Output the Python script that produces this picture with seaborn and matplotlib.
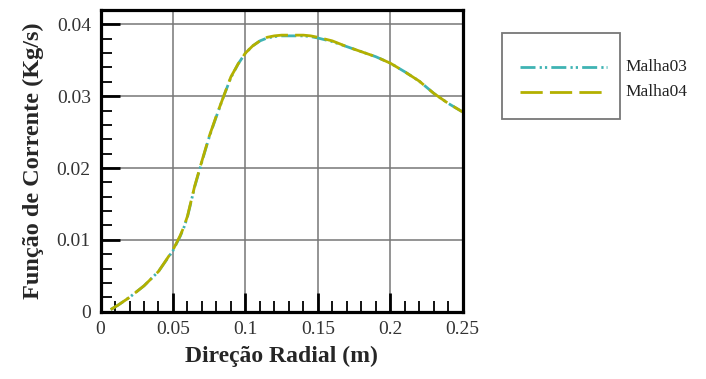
import matplotlib
matplotlib.use("Agg")
import matplotlib.pyplot as plt
from matplotlib.patches import Rectangle
from matplotlib.lines import Line2D
from matplotlib.ticker import MultipleLocator, FuncFormatter
import seaborn as sns
import pandas as pd

# Radial position (m) and stream function (kg/s) for the two meshes
radial_m = [0.007, 0.012, 0.02, 0.03, 0.04, 0.05, 0.055, 0.0575, 0.06, 0.0625,
            0.065, 0.07, 0.075, 0.08, 0.085, 0.09, 0.095, 0.1, 0.105, 0.11,
            0.115, 0.12, 0.125, 0.13, 0.135, 0.14, 0.145, 0.15, 0.16, 0.17,
            0.18, 0.19, 0.2, 0.21, 0.22, 0.23, 0.24, 0.25]
malha03 = [0.0003, 0.0009, 0.0020, 0.0036, 0.0056, 0.0085, 0.0105, 0.0117,
           0.0132, 0.0153, 0.0174, 0.0209, 0.0243, 0.0272, 0.0300, 0.0326,
           0.0345, 0.0360, 0.0370, 0.0377, 0.0381, 0.0383, 0.0384, 0.0384,
           0.0384, 0.0384, 0.0383, 0.0381, 0.0376, 0.0369, 0.0362, 0.0355,
           0.0346, 0.0334, 0.0321, 0.0304, 0.0290, 0.0278]
malha04 = [0.0003, 0.0009, 0.0020, 0.0036, 0.0056, 0.0086, 0.0106, 0.0118,
           0.0133, 0.0154, 0.0175, 0.0210, 0.0244, 0.0273, 0.0300, 0.0327,
           0.0345, 0.0360, 0.0370, 0.0377, 0.0382, 0.0384, 0.0385, 0.0385,
           0.0385, 0.0385, 0.0384, 0.0382, 0.0377, 0.0369, 0.0362, 0.0355,
           0.0346, 0.0334, 0.0321, 0.0304, 0.0290, 0.0278]
series_names = ["Malha03", "Malha04"]

teal = "#3fb3b3"
olive = "#b3b000"
dash_dot_dot = (5.4, 1.5, 0.8, 1.1, 0.8, 1.5)
dashed = (8.0, 2.6)

sns.set_style("white")
plt.rcParams["font.family"] = ["Liberation Serif", "DejaVu Serif"]

fig = plt.figure(figsize=(7.06, 3.79), dpi=100)
ax = fig.add_axes([0.1424, 0.1776, 0.6554 - 0.1424, 0.9736 - 0.1776])

df03 = pd.DataFrame({"r": radial_m, "psi": malha03})
df04 = pd.DataFrame({"r": radial_m, "psi": malha04})

sns.lineplot(data=df03, x="r", y="psi", ax=ax, color=teal, lw=2.0,
             estimator=None, sort=False)
ax.lines[-1].set_dashes(dash_dot_dot)
sns.lineplot(data=df04, x="r", y="psi", ax=ax, color=olive, lw=2.0,
             estimator=None, sort=False)
ax.lines[-1].set_dashes(dashed)

ax.set_xlim(0, 0.25)
ax.set_ylim(0, 0.042)
ax.xaxis.set_major_locator(MultipleLocator(0.05))
ax.xaxis.set_minor_locator(MultipleLocator(0.01))
ax.yaxis.set_major_locator(MultipleLocator(0.01))
ax.yaxis.set_minor_locator(MultipleLocator(0.002))
fmt = FuncFormatter(lambda v, p: "%g" % round(v, 4))
ax.xaxis.set_major_formatter(fmt)
ax.yaxis.set_major_formatter(fmt)

ax.grid(True, which="major", color="#777777", lw=1.1)
ax.set_axisbelow(True)
for s in ax.spines.values():
    s.set_visible(True)
    s.set_color("black")
    s.set_linewidth(2.3)

ax.tick_params(which="major", direction="in", length=13.5, width=2.0,
               color="black", labelsize=14, labelcolor="#333333",
               top=False, right=False, left=True, bottom=True)
ax.tick_params(axis="y", which="major", pad=7)
ax.tick_params(axis="x", which="major", pad=7)
ax.tick_params(which="minor", direction="in", length=8, width=1.3,
               color="black", top=False, right=False, left=True, bottom=True)

ax.set_xlabel("Direção Radial (m)", fontsize=17, fontweight="bold",
              labelpad=5)
ax.set_ylabel("Função de Corrente (Kg/s)", fontsize=17.5, fontweight="bold",
              labelpad=9)

# Legend box holding only the line samples; labels sit to its right
W, H = 706.0, 379.0
fig.patches.append(Rectangle((502 / W, 1 - 119 / H), 118 / W, 86 / H,
                             transform=fig.transFigure, fill=False,
                             edgecolor="#777777", lw=1.3))
for name, color, dash, ypx in [(series_names[0], teal, dash_dot_dot, 67),
                               (series_names[1], olive, dashed, 92)]:
    ln = Line2D([520 / W, 607 / W], [1 - ypx / H, 1 - ypx / H],
                transform=fig.transFigure, color=color, lw=2.0)
    ln.set_dashes(dash)
    fig.lines.append(ln)
    fig.text(625 / W, 1 - ypx / H, name, fontsize=12.5, va="center",
             ha="left", color="#222222")

fig.savefig("out.png", dpi=100)
